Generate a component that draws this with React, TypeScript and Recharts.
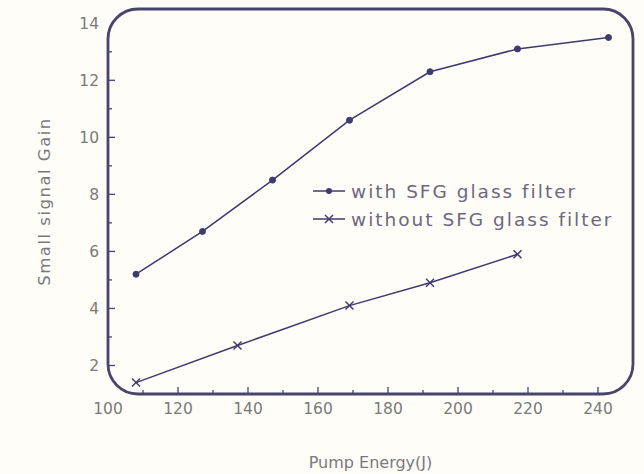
import { Legend, Line, LineChart, ReferenceArea, XAxis, YAxis } from 'recharts'

const energyWithFilter = [108, 127, 147, 169, 192, 217, 243]
const gainWithFilter = [5.2, 6.7, 8.5, 10.6, 12.3, 13.1, 13.5]
const energyWithoutFilter = [108, 137, 169, 192, 217]
const gainWithoutFilter = [1.4, 2.7, 4.1, 4.9, 5.9]

const xTicks = [100, 110, 120, 130, 140, 150, 160, 170, 180, 190, 200, 210, 220, 230, 240]
const yTicks = [2, 3, 4, 5, 6, 7, 8, 9, 10, 11, 12, 13, 14]

const LINE = '#3d3b6e'
const FRAME = '#48446a'
const TEXT = '#7a7a7a'
const FONT = '"DejaVu Sans", sans-serif'

const withData = energyWithFilter.map((energy, i) => ({ energy, gain: gainWithFilter[i] }))
const withoutData = energyWithoutFilter.map((energy, i) => ({ energy, gain: gainWithoutFilter[i] }))

function XTick({ x, y, payload }: any) {
  const v = payload.value
  const major = v % 20 === 0
  const axisY = y - 9
  return (
    <g>
      {v !== 100 && (
        <line x1={x} x2={x} y1={axisY} y2={axisY - (major ? 7 : 4)} stroke={FRAME} strokeWidth={1.3} />
      )}
      {major && (
        <text x={x} y={y} dy="0.71em" textAnchor="middle" fill={TEXT} fontSize={15.5} fontFamily={FONT}>
          {v}
        </text>
      )}
    </g>
  )
}

function YTick({ x, y, payload }: any) {
  const v = payload.value
  const major = v % 2 === 0
  const axisX = x + 9
  return (
    <g>
      {v !== 14 && (
        <line x1={axisX} x2={axisX + (major ? 7 : 4)} y1={y} y2={y} stroke={FRAME} strokeWidth={1.3} />
      )}
      {major && (
        <text x={x} y={y} dy="0.35em" textAnchor="end" fill={TEXT} fontSize={15.5} fontFamily={FONT}>
          {v}
        </text>
      )}
    </g>
  )
}

function CrossDot({ cx, cy }: any) {
  if (cx == null || cy == null) return null
  const s = 4
  return (
    <g stroke={LINE} strokeWidth={1.5}>
      <line x1={cx - s} y1={cy - s} x2={cx + s} y2={cy + s} />
      <line x1={cx - s} y1={cy + s} x2={cx + s} y2={cy - s} />
    </g>
  )
}

function LegendContent() {
  const rows = [
    { label: 'with SFG glass filter', cross: false },
    { label: 'without SFG glass filter', cross: true },
  ]
  return (
    <div style={{ fontFamily: FONT, fontSize: 18.5, letterSpacing: 2, color: '#6b6880', whiteSpace: 'nowrap' }}>
      {rows.map((row) => (
        <div key={row.label} style={{ display: 'flex', alignItems: 'center', height: 28 }}>
          <svg width={36} height={12} style={{ marginRight: 4 }}>
            <line x1={2} x2={34} y1={6} y2={6} stroke={LINE} strokeWidth={1.5} />
            {row.cross ? (
              <CrossDot cx={18} cy={6} />
            ) : (
              <circle cx={18} cy={6} r={3} fill={LINE} />
            )}
          </svg>
          <span>{row.label}</span>
        </div>
      ))}
    </div>
  )
}

export default function App() {
  return (
    <div style={{ position: 'absolute', left: 0, top: 0, width: 644, height: 474, background: '#fefdf8' }}>
      <LineChart width={644} height={474} margin={{ top: 9, right: 11, left: 0, bottom: 0 }}>
        <XAxis
          dataKey="energy"
          type="number"
          domain={[100, 250]}
          ticks={xTicks}
          interval={0}
          axisLine={false}
          tickLine={false}
          tickSize={0}
          tickMargin={9}
          tick={<XTick />}
          height={80}
          label={{ value: 'Pump Energy(J)', position: 'insideBottom', offset: 6, fill: TEXT, fontSize: 16, fontFamily: FONT }}
          allowDuplicatedCategory={false}
        />
        <YAxis
          dataKey="gain"
          type="number"
          domain={[1, 14.5]}
          ticks={yTicks}
          interval={0}
          axisLine={false}
          tickLine={false}
          tickSize={0}
          tickMargin={9}
          tick={<YTick />}
          width={108}
          label={{ value: 'Small signal Gain', angle: -90, position: 'insideLeft', offset: 44, textAnchor: 'middle', fill: TEXT, fontSize: 16.5, letterSpacing: 1.5, fontFamily: FONT }}
        />
        <ReferenceArea
          x1={100}
          x2={250}
          y1={1}
          y2={14.5}
          shape={(p: any) => (
            <rect x={p.x} y={p.y} width={p.width} height={p.height} rx={30} ry={30} fill="none" stroke={FRAME} strokeWidth={2.8} />
          )}
        />
        <Line
          data={withData}
          dataKey="gain"
          name="with SFG glass filter"
          stroke={LINE}
          strokeWidth={1.5}
          dot={{ r: 3, fill: LINE, stroke: LINE, strokeWidth: 1 }}
          isAnimationActive={false}
        />
        <Line
          data={withoutData}
          dataKey="gain"
          name="without SFG glass filter"
          stroke={LINE}
          strokeWidth={1.5}
          dot={<CrossDot />}
          isAnimationActive={false}
        />
        <Legend
          content={<LegendContent />}
          layout="vertical"
          align="center"
          verticalAlign="middle"
          wrapperStyle={{ position: 'absolute', left: 311, top: 177, width: 320 }}
        />
      </LineChart>
    </div>
  )
}
